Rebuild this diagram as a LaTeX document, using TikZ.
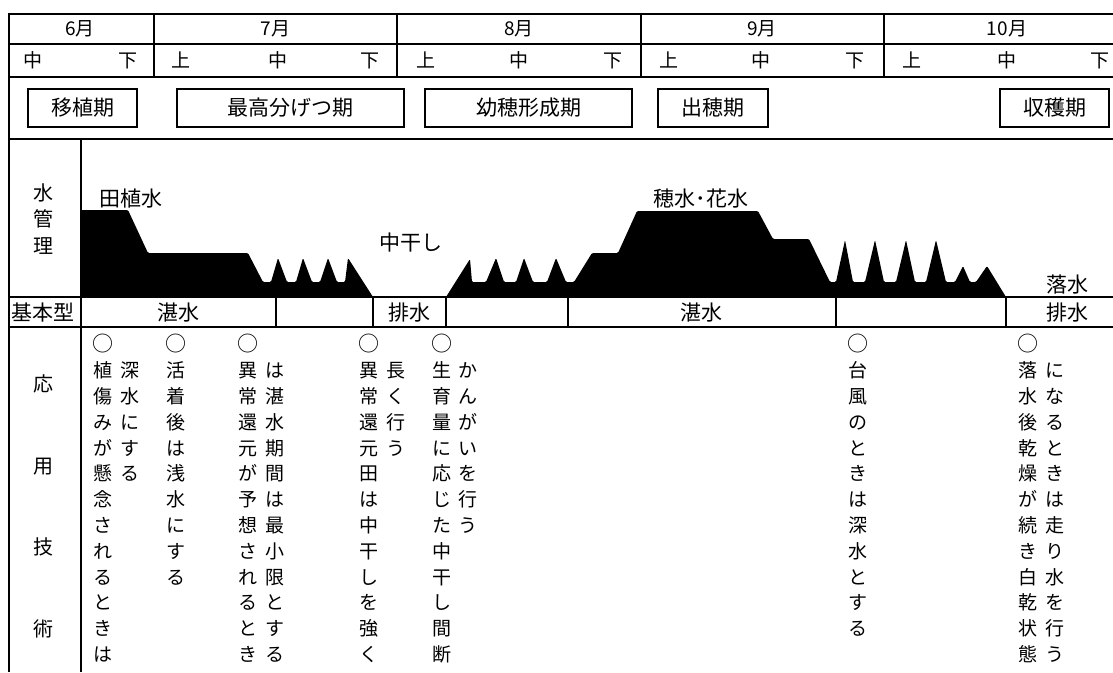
\documentclass[tikz,border=0pt]{standalone}
\usepackage{fontspec}
\setmainfont{Noto Sans CJK JP}
\newcommand\maru{{\fontsize{21}{21}\selectfont ○}}
\newcommand\vcol[4]{\foreach \c [count=\i from #3] in {#4}{\node[t19] (#1-\i) at (#2,{345+25.8*\i}) {\c};}}
\begin{document}
\begin{tikzpicture}[x=1pt,y=-1pt,
  thk/.style={line width=2.6pt},
  med/.style={line width=2.2pt},
  t18/.style={font=\fontsize{18}{21}\selectfont,inner sep=0pt,text height=15pt,text depth=2.2pt},
  t19/.style={font=\fontsize{19}{22}\selectfont,inner sep=0pt,text height=16pt,text depth=2.3pt},
  t20/.style={font=\fontsize{20}{24}\selectfont,inner sep=0pt,text height=16.8pt,text depth=2.4pt},
  t21/.style={font=\fontsize{21}{25}\selectfont,inner sep=0pt,text height=17.6pt,text depth=2.5pt},
  perbox/.style={t21,draw,line width=2pt,minimum height=38pt},
  water/.style={fill=black,rounded corners=1.2pt}
]
\useasboundingbox (0,0) rectangle (1113,672);
% water profile
\fill[water] (81,297) -- (81,210) -- (128,210) -- (148,253) -- (248,253) -- (263,282) -- (271,282) -- (278,258) -- (287,282) -- (296,282) -- (303,258) -- (312,282) -- (320,282) -- (328,258) -- (337,282) -- (345,282) -- (348,258) -- (373,297) -- cycle;
\fill[water] (446,297) -- (470,259) -- (472,282) -- (486,282) -- (496,258) -- (504,282) -- (516,282) -- (524,258) -- (533,282) -- (547,282) -- (556,258) -- (566,282) -- (574,282) -- (592,253) -- (618,253) -- (637,211) -- (758,211) -- (773,239) -- (809,239) -- (830,282) -- (836,282) -- (845,240) -- (853,282) -- (865,282) -- (875,240) -- (884,282) -- (896,282) -- (906,240) -- (915,282) -- (926,282) -- (936,240) -- (946,282) -- (955,282) -- (963,266) -- (970,282) -- (976,282) -- (987,266) -- (1006,297) -- cycle;
% grid
\draw[thk] (9,672) -- (9,14) -- (1114,14);
\draw[thk] (9,44) -- (1114,44);
\draw[thk] (9,77) -- (1114,77);
\draw[thk] (9,139) -- (1114,139);
\foreach \x in {154,397,641,884} \draw[thk] (\x,14) -- (\x,77);
\draw[thk] (81,139) -- (81,672);
\draw[med] (9,297) -- (1114,297);
\draw[med] (9,327) -- (1114,327);
\foreach \x in {276,373,446,568,836,1006} \draw[med] (\x,297) -- (\x,327);
% months
\node[t19] (m6) at (80,29) {6月};
\node[t19] (m7) at (275.5,29) {7月};
\node[t19] (m8) at (519,29) {8月};
\node[t19] (m9) at (762,29) {9月};
\node[t19] (m10) at (1007,29) {10月};
% decades
\node[t19] (d6b) at (33,61) {中};
\node[t19] (d6c) at (128,61) {下};
\node[t19] (d7a) at (181,61) {上};
\node[t19] (d7b) at (278,61) {中};
\node[t19] (d7c) at (370,61) {下};
\node[t19] (d8a) at (426,61) {上};
\node[t19] (d8b) at (519,61) {中};
\node[t19] (d8c) at (613,61) {下};
\node[t19] (d9a) at (669,61) {上};
\node[t19] (d9b) at (761,61) {中};
\node[t19] (d9c) at (855,61) {下};
\node[t19] (d10a) at (912,61) {上};
\node[t19] (d10b) at (1007,61) {中};
\node[t19] (d10c) at (1100,61) {下};
% periods
\node[perbox,minimum width=109pt] (p1) at (82.5,108) {移植期};
\node[perbox,minimum width=227pt] (p2) at (290.5,108) {最高分げつ期};
\node[perbox,minimum width=207pt] (p3) at (528.5,108) {幼穂形成期};
\node[perbox,minimum width=110pt] (p4) at (713,108) {出穂期};
\node[perbox,minimum width=109pt] (p5) at (1054.5,108) {収穫期};
% water management labels
\foreach \c [count=\i] in {水,管,理} \node[t20] (wm-\i) at (43,{166.5+26.5*\i}) {\c};
\node[t21] (tauesui) at (130.5,199) {田植水};
\node[t21] (nakaboshi) at (411,243) {中干し};
\node[t21] (homizu) at (701,199) {穂水･花水};
\node[t21] (ochimizu) at (1067,285) {落水};
% basic type row
\node[t21] (kihon) at (43,313) {基本型};
\node[t21] (tan1) at (178,313) {湛水};
\node[t21] (hai1) at (409,313) {排水};
\node[t21] (tan2) at (701,313) {湛水};
\node[t21] (hai2) at (1067,313) {排水};
% applied techniques
\foreach \c [count=\i] in {応,用,技,術} \node[t20] (ap-\i) at (43,{302.5+81.7*\i}) {\c};
\vcol{a1}{103}{0}{\maru,植,傷,み,が,懸,念,さ,れ,る,と,き,は}
\vcol{a1r}{129.6}{1}{深,水,に,す,る}
\vcol{a2}{176}{0}{\maru,活,着,後,は,浅,水,に,す,る}
\vcol{a3}{248}{0}{\maru,異,常,還,元,が,予,想,さ,れ,る,と,き}
\vcol{a3r}{275}{1}{は,湛,水,期,間,は,最,小,限,と,す,る}
\vcol{a4}{369}{0}{\maru,異,常,還,元,田,は,中,干,し,を,強,く}
\vcol{a4r}{395.5}{1}{長,く,行,う}
\vcol{a5}{441.6}{0}{\maru,生,育,量,に,応,じ,た,中,干,し,間,断}
\vcol{a5r}{467.5}{1}{か,ん,が,い,を,行,う}
\vcol{a6}{858}{0}{\maru,台,風,の,と,き,は,深,水,と,す,る}
\vcol{a7}{1028}{0}{\maru,落,水,後,乾,燥,が,続,き,白,乾,状,態}
\vcol{a7r}{1055}{1}{に,な,る,と,き,は,走,り,水,を,行,う}
\end{tikzpicture}
\end{document}
